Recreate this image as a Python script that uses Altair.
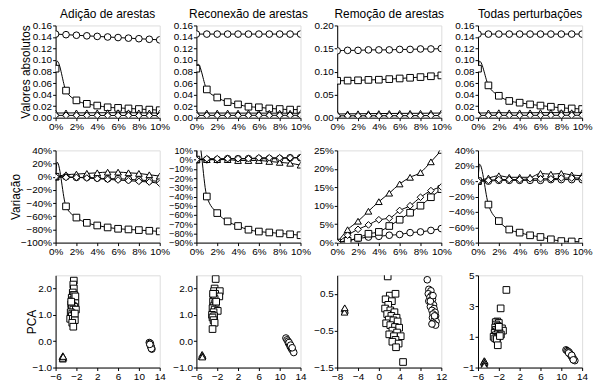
import altair as alt
import pandas as pd

FONT = "Liberation Sans"
PCT = [0, 1, 2, 3, 4, 5, 6, 7, 8, 9, 10]
SPIKE_PCT = 0.15
SERIES = ["Circle", "Square", "Triangle", "Diamond"]
SHAPES = ["circle", "square", "triangle-up", "diamond"]
TITLES = ["Adição de arestas", "Reconexão de arestas", "Remoção de arestas", "Todas perturbações"]
ROW_TITLES = ["Valores absolutos", "Variação", "PCA"]

# ---- Row 1: absolute values ----
ABS_ADD_CIRCLE = [0.145, 0.144, 0.143, 0.142, 0.141, 0.140, 0.139, 0.138, 0.137, 0.136, 0.135]
ABS_ADD_SQUARE = [0.085, 0.047, 0.030, 0.024, 0.021, 0.018, 0.017, 0.016, 0.015, 0.014, 0.013]
ABS_ADD_TRIANGLE = [0.008, 0.0082, 0.0083, 0.0084, 0.0085, 0.0086, 0.0086, 0.0085, 0.0084, 0.0082, 0.0081]
ABS_ADD_DIAMOND = [0.004, 0.004, 0.004, 0.0039, 0.0039, 0.0038, 0.0038, 0.0038, 0.0037, 0.0037, 0.0036]
ABS_ADD_SPIKE = 0.098

ABS_REC_CIRCLE = [0.145, 0.145, 0.145, 0.145, 0.145, 0.145, 0.145, 0.145, 0.145, 0.145, 0.145]
ABS_REC_SQUARE = [0.085, 0.049, 0.035, 0.027, 0.023, 0.019, 0.018, 0.016, 0.015, 0.014, 0.014]
ABS_REC_TRIANGLE = [0.008, 0.008, 0.008, 0.008, 0.0079, 0.0079, 0.0079, 0.0078, 0.0078, 0.0077, 0.0075]
ABS_REC_DIAMOND = [0.004, 0.004, 0.004, 0.004, 0.004, 0.004, 0.0041, 0.0041, 0.0041, 0.0041, 0.0041]
ABS_REC_SPIKE = 0.093

ABS_REM_CIRCLE = [0.145, 0.146, 0.146, 0.147, 0.147, 0.147, 0.148, 0.148, 0.149, 0.149, 0.150]
ABS_REM_SQUARE = [0.080, 0.0804, 0.081, 0.0819, 0.0823, 0.0836, 0.085, 0.0865, 0.088, 0.0898, 0.0916]
ABS_REM_TRIANGLE = [0.008, 0.0083, 0.0085, 0.0087, 0.0089, 0.0091, 0.0093, 0.0094, 0.0095, 0.0098, 0.010]
ABS_REM_DIAMOND = [0.004, 0.0041, 0.0041, 0.0042, 0.0042, 0.0043, 0.0043, 0.0044, 0.0045, 0.0046, 0.0046]

ABS_ALL_CIRCLE = [0.145, 0.145, 0.145, 0.145, 0.145, 0.145, 0.145, 0.145, 0.145, 0.145, 0.145]
ABS_ALL_SQUARE = [0.085, 0.056, 0.038, 0.029, 0.026, 0.023, 0.021, 0.019, 0.017, 0.016, 0.015]
ABS_ALL_TRIANGLE = [0.008, 0.0083, 0.0086, 0.0084, 0.0084, 0.0084, 0.0088, 0.0087, 0.0088, 0.0086, 0.0086]
ABS_ALL_DIAMOND = [0.004, 0.004, 0.0041, 0.0041, 0.0041, 0.0041, 0.0041, 0.0041, 0.0042, 0.0042, 0.0042]
ABS_ALL_SPIKE = 0.098

# ---- Row 2: variation (%) ----
VAR_ADD_CIRCLE = [0, 0, -1, -1, -2, -3, -3, -4, -5, -6, -7]
VAR_ADD_SQUARE = [0, -45, -62, -70, -74, -77, -79, -80, -81, -82, -83]
VAR_ADD_TRIANGLE = [0, 3, 4, 5, 6, 7, 7, 6, 5, 3, 1]
VAR_ADD_DIAMOND = [0, -1, -1, -2, -3, -4, -5, -6, -7, -8, -10]
VAR_ADD_SPIKE = 22

VAR_REC_CIRCLE = [0, 0, 0, 1, 1, 1, 1, 1, 1, 2, 2]
VAR_REC_SQUARE = [0, -40, -58, -67, -72, -76, -78, -79, -80, -81, -82]
VAR_REC_TRIANGLE = [0, 0, 0, 0, -1, -1, -1, -2, -3, -4, -6]
VAR_REC_DIAMOND = [0, 1, 1, 1, 1, 1, 2, 2, 2, 2, 2]
VAR_REC_SPIKE = 25

VAR_REM_CIRCLE = [0, 0.5, 1.1, 1.5, 1.7, 2.0, 2.2, 2.7, 2.9, 3.3, 3.8]
VAR_REM_SQUARE = [0, 0.5, 1.3, 2.4, 2.9, 4.5, 6.2, 8.1, 10.0, 12.3, 14.5]
VAR_REM_TRIANGLE = [0, 3.5, 5.8, 8.5, 11.1, 13.4, 15.9, 17.7, 19.0, 21.9, 25.0]
VAR_REM_DIAMOND = [0, 2.0, 3.6, 4.8, 6.2, 6.6, 8.7, 10.0, 12.3, 14.1, 15.1]

VAR_ALL_CIRCLE = [0, 0, 1, 1, 1, 1, 1, 2, 2, 2, 2]
VAR_ALL_SQUARE = [0, -30.5, -52, -63, -67, -70.5, -72.7, -75.7, -78, -78.5, -79]
VAR_ALL_TRIANGLE = [0, 4, 7, 5, 5, 5, 10, 9, 10, 8, 7]
VAR_ALL_DIAMOND = [0, 1, 2, 2, 2, 3, 3, 3, 4, 4, 4]
VAR_ALL_SPIKE = 22

# ---- Row 3: PCA scatter (x, y) ----
PCA_ADD_SQUARE = [(-2.5, 2.3), (-2.6, 2.15), (-2.5, 2.0), (-2.7, 1.85), (-2.6, 1.75), (-2.9, 1.65),
                  (-2.4, 1.6), (-2.8, 1.55), (-2.5, 1.5), (-2.2, 1.45), (-3.0, 1.4), (-2.7, 1.35),
                  (-2.4, 1.3), (-2.9, 1.25), (-2.6, 1.2), (-2.1, 1.2), (-3.1, 1.1), (-2.8, 1.05),
                  (-2.5, 1.0), (-2.9, 0.95), (-3.2, 0.85), (-2.7, 0.85), (-2.3, 0.8), (-2.8, 0.7),
                  (-2.6, 0.55), (-2.4, 1.75), (-2.2, 1.7), (-3.0, 1.5), (-2.3, 1.05)]
PCA_ADD_CIRCLE = [(12.0, -0.05), (12.1, -0.1), (12.2, -0.15), (12.3, -0.2), (12.4, -0.25), (12.5, -0.3),
                  (12.2, -0.08), (12.3, -0.18), (12.4, -0.28), (12.1, -0.12)]
PCA_ADD_TRIANGLE = [(-4.6, -0.55), (-4.7, -0.6), (-4.5, -0.62), (-4.6, -0.68), (-4.65, -0.65), (-4.55, -0.58)]

PCA_REC_SQUARE = [(-2.3, 2.36), (-2.5, 2.0), (-2.6, 1.9), (-1.5, 1.9), (-2.4, 1.8), (-1.6, 1.7),
                  (-2.7, 1.7), (-2.5, 1.6), (-2.8, 1.5), (-2.4, 1.45), (-2.6, 1.35), (-2.3, 1.3),
                  (-2.9, 1.25), (-2.5, 1.2), (-1.9, 1.15), (-2.7, 1.1), (-3.0, 1.0), (-2.6, 0.95),
                  (-2.9, 0.9), (-2.7, 0.8), (-2.5, 0.7), (-2.9, 0.46), (-2.2, 1.5), (-2.8, 1.8)]
PCA_REC_CIRCLE = [(11.2, 0.12), (11.4, 0.05), (11.6, 0.0), (11.7, -0.08), (11.9, -0.12), (12.0, -0.2),
                  (12.2, -0.25), (12.3, -0.3), (12.5, -0.35), (12.7, -0.43), (11.8, -0.05), (12.1, -0.15),
                  (12.4, -0.25)]
PCA_REC_TRIANGLE = [(-4.9, -0.5), (-4.8, -0.55), (-5.0, -0.58), (-4.85, -0.6)]

PCA_REM_SQUARE = [(1.7, 0.97), (4.65, -1.35), (2.1, 0.45), (3.2, 0.5), (1.3, 0.35), (2.5, 0.3), (1.8, 0.2),
                  (1.2, 0.1), (2.2, 0.05), (3.0, 0.0), (1.6, -0.05), (2.4, -0.1), (3.4, -0.15), (1.9, -0.2),
                  (2.8, -0.22), (3.6, -0.25), (1.4, -0.3), (2.2, -0.35), (3.1, -0.4), (3.9, -0.42),
                  (2.6, -0.5), (3.5, -0.55), (2.0, -0.6), (2.9, -0.65), (4.2, -0.65), (3.2, -0.75),
                  (2.6, -0.8), (3.8, -0.85), (3.3, -0.95)]
PCA_REM_CIRCLE = [(9.3, 0.88), (9.6, 0.62), (10.0, 0.58), (9.5, 0.5), (10.1, 0.45), (9.8, 0.4), (10.3, 0.35),
                  (9.6, 0.3), (10.0, 0.25), (10.5, 0.2), (9.9, 0.15), (10.6, 0.1), (10.2, 0.05), (10.8, 0.0),
                  (10.4, -0.05), (10.9, -0.1), (10.3, -0.15), (10.7, -0.2), (11.0, -0.25), (10.5, -0.3),
                  (10.9, -0.35), (10.2, -0.32), (10.7, -0.1), (9.9, 0.3), (10.4, 0.45)]
PCA_REM_TRIANGLE = [(-6.6, 0.1), (-6.5, 0.05), (-6.6, 0.0), (-6.55, 0.12)]

PCA_ALL_SQUARE = [(-0.55, 4.05), (-1.65, 2.85), (-2.3, 2.0), (-2.6, 1.95), (-2.0, 1.9), (-2.5, 1.8),
                  (-2.2, 1.7), (-2.7, 1.6), (-1.4, 1.55), (-2.1, 1.5), (-2.6, 1.45), (-1.2, 1.4),
                  (-2.4, 1.35), (-1.9, 1.3), (-2.8, 1.25), (-2.2, 1.2), (-1.6, 1.15), (-2.6, 1.1),
                  (-3.0, 1.0), (-2.3, 0.95), (-2.7, 0.9), (-2.4, 0.85), (-2.2, 0.45), (-1.8, 1.05),
                  (-2.0, 1.65)]
PCA_ALL_CIRCLE = [(10.9, 0.15), (11.1, 0.1), (11.3, 0.05), (11.5, 0.0), (11.6, -0.1), (11.8, -0.15),
                  (11.9, -0.25), (12.1, -0.3), (12.2, -0.4), (12.4, -0.45), (12.6, -0.55), (11.4, -0.05),
                  (12.0, -0.2), (12.3, -0.5)]
PCA_ALL_TRIANGLE = [(-4.8, -0.55), (-4.7, -0.6), (-4.9, -0.65), (-4.75, -0.7), (-4.8, -0.8), (-4.8, -0.88)]

W, H = 105, 93
shape_scale = alt.Scale(domain=SERIES, range=SHAPES)

AXIS_STYLE = dict(labelFont=FONT, labelColor="black", titleFont=FONT, titleFontSize=12,
                  titleFontWeight="normal", titleColor="black", tickColor="black", tickSize=3,
                  domainColor="black", grid=False, labelPadding=1, labelOverlap=False, labelFlush=False,
                  labelBound=False)


def yaxis(values, fmt, title, title_x, label_size=10):
    kw = dict(AXIS_STYLE)
    if title:
        kw.update(title=title, titleX=title_x, titleAnchor="middle")
    else:
        kw.update(title=None)
    return alt.Axis(values=values, format=fmt, labelFontSize=label_size, **kw)


def xaxis(values, fmt):
    return alt.Axis(values=values, format=fmt, title=None, labelFontSize=10, **AXIS_STYLE)


def line_panel(vals, spike, factor, ydom, yticks, yfmt, title=None, ytitle=None, title_x=-20, label_size=10):
    pts, lines = [], []
    for name, v in zip(SERIES, vals):
        for p, y in zip(PCT, v):
            pts.append({"x": p / 100, "y": y * factor, "s": name})
        lx, ly = list(PCT), list(v)
        if name == "Square" and spike is not None:
            lx.insert(1, SPIKE_PCT)
            ly.insert(1, spike)
        for p, y in zip(lx, ly):
            lines.append({"x": p / 100, "y": y * factor, "s": name})
    xenc = alt.X("x:Q", scale=alt.Scale(domain=[0, 0.1], nice=False, zero=False),
                 axis=xaxis([0, 0.02, 0.04, 0.06, 0.08, 0.1], ".0%"))
    yenc = alt.Y("y:Q", scale=alt.Scale(domain=ydom, nice=False, zero=False),
                 axis=yaxis(yticks, yfmt, ytitle, title_x, label_size))
    ln = alt.Chart(pd.DataFrame(lines)).mark_line(color="black", strokeWidth=1, clip=True,
                                                  interpolate="monotone").encode(x=xenc, y=yenc, detail="s:N")
    pt = alt.Chart(pd.DataFrame(pts)).mark_point(filled=True, fill="white", stroke="black", strokeWidth=1,
                                                 size=45, opacity=1, clip=True).encode(
        x=xenc, y=yenc, shape=alt.Shape("s:N", scale=shape_scale, legend=None))
    ch = alt.layer(ln, pt).properties(width=W, height=H)
    if title:
        ch = ch.properties(title=alt.Title(title, fontSize=12, fontWeight="normal", font=FONT, offset=0,
                                           color="black"))
    return ch


def pca_panel(clusters, xdom, xticks, ydom, yticks, yfmt, ytitle=None, title_x=-15):
    rows = []
    for name, pts in clusters:
        for x, y in pts:
            rows.append({"x": x, "y": y, "s": name})
    xenc = alt.X("x:Q", scale=alt.Scale(domain=xdom, nice=False, zero=False), axis=xaxis(xticks, "d"))
    yenc = alt.Y("y:Q", scale=alt.Scale(domain=ydom, nice=False, zero=False),
                 axis=yaxis(yticks, yfmt, ytitle, title_x))
    return alt.Chart(pd.DataFrame(rows)).mark_point(filled=True, fill="white", stroke="black", strokeWidth=1,
                                                    size=45, opacity=1, clip=True).encode(
        x=xenc, y=yenc, shape=alt.Shape("s:N", scale=shape_scale, legend=None)).properties(width=W, height=H)


abs_ticks16 = [0, 0.02, 0.04, 0.06, 0.08, 0.10, 0.12, 0.14, 0.16]
panels = [
    line_panel([ABS_ADD_CIRCLE, ABS_ADD_SQUARE, ABS_ADD_TRIANGLE, ABS_ADD_DIAMOND], ABS_ADD_SPIKE, 1,
               [0, 0.16], abs_ticks16, ".2f", TITLES[0], ROW_TITLES[0], -23),
    line_panel([ABS_REC_CIRCLE, ABS_REC_SQUARE, ABS_REC_TRIANGLE, ABS_REC_DIAMOND], ABS_REC_SPIKE, 1,
               [0, 0.16], abs_ticks16, ".2f", TITLES[1]),
    line_panel([ABS_REM_CIRCLE, ABS_REM_SQUARE, ABS_REM_TRIANGLE, ABS_REM_DIAMOND], None, 1,
               [0, 0.20], [0, 0.05, 0.10, 0.15, 0.20], ".2f", TITLES[2]),
    line_panel([ABS_ALL_CIRCLE, ABS_ALL_SQUARE, ABS_ALL_TRIANGLE, ABS_ALL_DIAMOND], ABS_ALL_SPIKE, 1,
               [0, 0.16], abs_ticks16, ".2f", TITLES[3]),
    line_panel([VAR_ADD_CIRCLE, VAR_ADD_SQUARE, VAR_ADD_TRIANGLE, VAR_ADD_DIAMOND], VAR_ADD_SPIKE, 0.01,
               [-1.0, 0.4], [-1.0, -0.8, -0.6, -0.4, -0.2, 0, 0.2, 0.4], ".0%", None, ROW_TITLES[1], -33),
    line_panel([VAR_REC_CIRCLE, VAR_REC_SQUARE, VAR_REC_TRIANGLE, VAR_REC_DIAMOND], VAR_REC_SPIKE, 0.01,
               [-0.9, 0.1], [-0.9, -0.8, -0.7, -0.6, -0.5, -0.4, -0.3, -0.2, -0.1, 0, 0.1], ".0%",
               label_size=9.3),
    line_panel([VAR_REM_CIRCLE, VAR_REM_SQUARE, VAR_REM_TRIANGLE, VAR_REM_DIAMOND], None, 0.01,
               [0, 0.25], [0, 0.05, 0.10, 0.15, 0.20, 0.25], ".0%"),
    line_panel([VAR_ALL_CIRCLE, VAR_ALL_SQUARE, VAR_ALL_TRIANGLE, VAR_ALL_DIAMOND], VAR_ALL_SPIKE, 0.01,
               [-0.8, 0.4], [-0.8, -0.6, -0.4, -0.2, 0, 0.2, 0.4], ".0%"),
    pca_panel([("Square", PCA_ADD_SQUARE), ("Circle", PCA_ADD_CIRCLE), ("Triangle", PCA_ADD_TRIANGLE)],
              [-6, 14], [-6, -2, 2, 6, 10, 14], [-1, 2.5], [-1, 0, 1, 2], ".1f", ROW_TITLES[2], -17),
    pca_panel([("Square", PCA_REC_SQUARE), ("Circle", PCA_REC_CIRCLE), ("Triangle", PCA_REC_TRIANGLE)],
              [-6, 14], [-6, -2, 2, 6, 10, 14], [-1, 2.5], [-1, 0, 1, 2], ".1f"),
    pca_panel([("Square", PCA_REM_SQUARE), ("Circle", PCA_REM_CIRCLE), ("Triangle", PCA_REM_TRIANGLE)],
              [-8, 12], [-8, -4, 0, 4, 8, 12], [-1.5, 1.0], [-1.5, -0.5, 0.5], ".1f"),
    pca_panel([("Square", PCA_ALL_SQUARE), ("Circle", PCA_ALL_CIRCLE), ("Triangle", PCA_ALL_TRIANGLE)],
              [-6, 14], [-6, -2, 2, 6, 10, 14], [-1, 5], [-1, 1, 3, 5], "d"),
]

chart = alt.concat(*panels, columns=4, spacing={"row": 33, "column": 37}, bounds="flush").properties(
    padding={"left": 1, "top": -3, "right": 4, "bottom": 0}
).configure_view(stroke="black", strokeWidth=1).configure_axis(
    labelFont=FONT, labelFontSize=10, labelColor="black", titleFont=FONT, titleFontSize=12,
    titleFontWeight="normal", titleColor="black", tickColor="black", tickSize=3, domainColor="black",
    grid=False, labelPadding=1
).configure(background="white")

chart.save("out.html", embed_options={"renderer": "svg", "actions": False})
